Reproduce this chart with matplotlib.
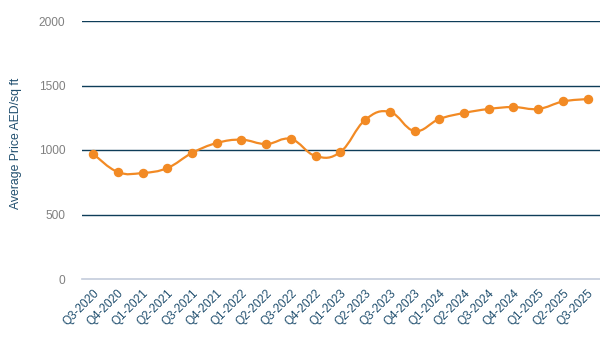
import matplotlib
matplotlib.use("Agg")
import matplotlib.pyplot as plt
import numpy as np
from matplotlib.path import Path
from matplotlib.patches import PathPatch

plt.rcParams["font.family"] = ["Liberation Sans", "DejaVu Sans"]

quarters = ["Q3-2020", "Q4-2020", "Q1-2021", "Q2-2021", "Q3-2021", "Q4-2021",
            "Q1-2022", "Q2-2022", "Q3-2022", "Q4-2022", "Q1-2023", "Q2-2023",
            "Q3-2023", "Q4-2023", "Q1-2024", "Q2-2024", "Q3-2024", "Q4-2024",
            "Q1-2025", "Q2-2025", "Q3-2025"]
avg_price = [970, 829, 822, 860, 977, 1054, 1080, 1046, 1085, 953, 985, 1233,
             1295, 1147, 1240, 1287, 1318, 1333, 1318, 1376, 1395]

LINE = "#f28a24"
GRID = "#0e3d59"
LABEL = "#1f4e6e"

fig = plt.figure(figsize=(6, 3.47), dpi=100)
ax = fig.add_axes([82 / 600, 1 - 279 / 347, 518 / 600, 258 / 347])

x = np.arange(len(quarters))
y = np.array(avg_price, dtype=float)

# smooth curve through the points (cardinal spline as cubic bezier segments)
t = 0.4
verts = [(x[0], y[0])]
codes = [Path.MOVETO]
n = len(x)
for i in range(n - 1):
    x0, y0 = (x[i - 1], y[i - 1]) if i > 0 else (x[i], y[i])
    x3, y3 = (x[i + 2], y[i + 2]) if i + 2 < n else (x[i + 1], y[i + 1])
    c1 = (x[i] + (x[i + 1] - x0) * t / 2, y[i] + (y[i + 1] - y0) * t / 2)
    c2 = (x[i + 1] - (x3 - x[i]) * t / 2, y[i + 1] - (y3 - y[i]) * t / 2)
    verts += [c1, c2, (x[i + 1], y[i + 1])]
    codes += [Path.CURVE4] * 3
ax.add_patch(PathPatch(Path(verts, codes), fill=False, edgecolor=LINE, lw=1.6, zorder=3))
ax.plot(x, y, ls="none", marker="o", ms=5.8, color=LINE, zorder=4)

ax.set_xlim(-0.45, n - 0.5)
ax.set_ylim(0, 2000)
ax.set_yticks([0, 500, 1000, 1500, 2000])
for v in [500, 1000, 1500, 2000]:
    ax.axhline(v, color=GRID, lw=1, zorder=1)
ax.axhline(0, color="#c3ccdb", lw=1.2, zorder=1, clip_on=False)

for s in ax.spines.values():
    s.set_visible(False)
ax.tick_params(axis="both", length=0)
ax.tick_params(axis="y", colors="#808080", labelsize=8.6, pad=12)
ax.set_xticks(x)
ax.set_xticklabels(quarters, rotation=45, ha="right", rotation_mode="anchor",
                   fontsize=8.5, color=LABEL)
ax.tick_params(axis="x", pad=6)
ax.set_ylabel("Average Price AED/sq ft", color=LABEL, fontsize=8.8)
ax.yaxis.set_label_coords(-0.116, 0.527)

plt.savefig("out.png", dpi=100)
